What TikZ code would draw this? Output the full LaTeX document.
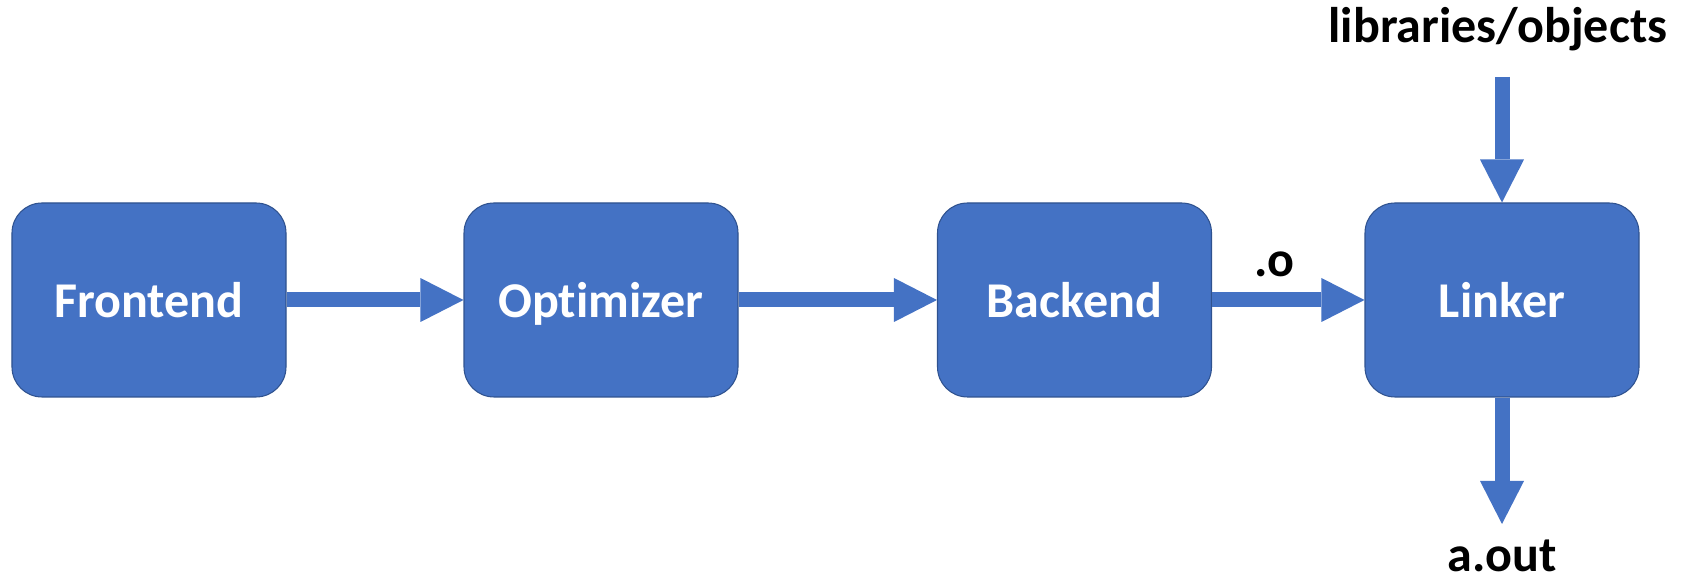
\documentclass[tikz,border=0pt]{standalone}
\usepackage{fontspec}
\setmainfont{Carlito}[Ligatures={NoCommon}]
\usepackage{tikz}
\usetikzlibrary{arrows.meta,positioning,calc}
\definecolor{boxblue}{HTML}{4472C4}
\definecolor{boxedge}{HTML}{2F528F}

\begin{document}
\begin{tikzpicture}[
    block/.style={rectangle, rounded corners=0.6cm, draw=boxedge, line width=0.6pt, fill=boxblue, minimum width=5.48cm, minimum height=3.88cm, text=white, text height=0.72cm, text depth=0pt, font=\fontsize{28.5}{34}\bfseries\selectfont},
    every edge/.style={draw, boxblue, line width=0.3cm, -{Triangle[width=0.88cm, length=0.86cm, line width=0pt]}},
    lbl/.style={font=\fontsize{28.5}{34}\bfseries\selectfont, black, inner sep=0pt}
]
\useasboundingbox (0,0) rectangle (33.76,11.66);

\node[block] (fe) at (2.98,5.66) {Frontend};
\node[block] (opt) at (12.02,5.66) {Optimizer};
\node[block] (be) at (21.49,5.66) {Backend};
\node[block] (lnk) at (30.04,5.66) {Linker};

\coordinate (libtop) at (30.04,10.12);
\coordinate (outend) at (30.04,1.18);
\node[lbl, anchor=base] (libs) at (29.96,10.8) {libraries/objects};
\node[lbl, anchor=base] (aout) at (30.04,0.22) {a.out};

\path (fe) edge (opt);
\path (opt) edge (be);
\path (be) edge node[lbl, anchor=base, xshift=-0.28cm, yshift=0.46cm] (objlbl) {.o} (lnk);
\path (libtop) edge (lnk);
\path (lnk) edge (outend);

\end{tikzpicture}
\end{document}
